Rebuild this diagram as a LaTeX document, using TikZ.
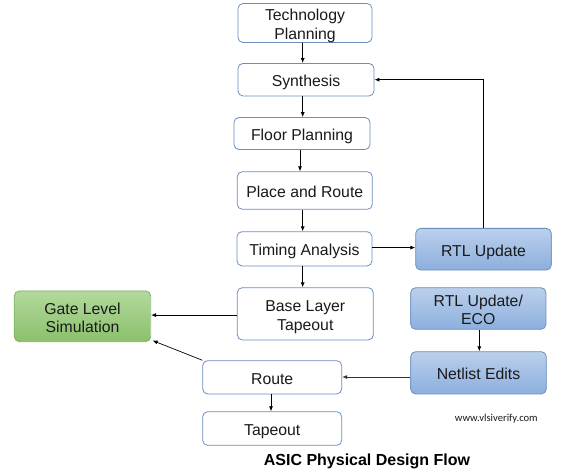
\documentclass[tikz,border=0pt]{standalone}
\usepackage{fontspec}
\setmainfont{Liberation Sans}
\newfontfamily\wmfont{Carlito}
\usetikzlibrary{arrows.meta}
\definecolor{bordblue}{HTML}{6C8EBF}
\definecolor{bordgreen}{HTML}{82B366}
\definecolor{bluetop}{HTML}{BBD0EC}
\definecolor{bluebot}{HTML}{8CAFDE}
\definecolor{greentop}{HTML}{B3D99D}
\definecolor{greenbot}{HTML}{8BC06C}
\definecolor{txt}{HTML}{1A1A1A}
\newcommand{\ctext}[1]{\raisebox{-7pt}[0pt][0pt]{\begin{tabular}{@{}c@{}}#1\end{tabular}}}
\tikzset{
  box/.style={draw=bordblue, line width=0.8pt, rounded corners=5pt, fill=white,
    inner sep=0pt, text=txt,
    font=\fontsize{15.8}{18.5}\selectfont},
  bluebox/.style={box, top color=bluetop, bottom color=bluebot},
  greenbox/.style={box, draw=bordgreen, top color=greentop, bottom color=greenbot},
  arr/.style={-{Latex[length=5pt,width=4pt]}, line width=0.7pt, black},
}
\begin{document}
\begin{tikzpicture}[x=1pt,y=-1pt]
\useasboundingbox[fill=white] (0,0) rectangle (582,475);
\node[box, minimum width=134pt, minimum height=39pt] (tp) at (305,23) {\ctext{Technology\\Planning}};
\node[box, minimum width=136pt, minimum height=32.5pt] (syn) at (306,79.7) {\ctext{Synthesis}};
\node[box, minimum width=136pt, minimum height=32pt] (fp) at (302,133.5) {\ctext{Floor Planning}};
\node[box, minimum width=135pt, minimum height=37.6pt] (pr) at (304.8,190.5) {\ctext{Place and Route}};
\node[box, minimum width=135pt, minimum height=34.3pt] (ta) at (304.5,248.8) {\ctext{Timing Analysis}};
\node[box, minimum width=136pt, minimum height=52.3pt] (bl) at (305.3,313.8) {\ctext{Base Layer\\Tapeout}};
\node[bluebox, minimum width=135.6pt, minimum height=41.7pt] (rtl) at (483.5,249.2) {\ctext{RTL Update}};
\node[bluebox, minimum width=135.3pt, minimum height=41.6pt] (eco) at (478.3,308.5) {\ctext{RTL Update/\\ECO}};
\node[bluebox, minimum width=135.6pt, minimum height=42.3pt] (net) at (478.5,372.8) {\ctext{Netlist Edits}};
\node[greenbox, minimum width=136.4pt, minimum height=50.7pt] (gls) at (82.5,316.3) {\ctext{Gate Level\\Simulation}};
\node[box, minimum width=139pt, minimum height=33.3pt] (route) at (272.2,377.3) {\ctext{Route}};
\node[box, minimum width=139pt, minimum height=33.6pt] (tape) at (272.2,428.5) {\ctext{Tapeout}};
\node[font=\wmfont\fontsize{10.6}{12}\selectfont, text=txt] (wm) at (496.3,418.3) {www.vlsiverify.com};
\node[font=\bfseries\fontsize{16}{19}\selectfont] (title) at (367,461) {ASIC Physical Design Flow};
% connectors
\coordinate (a1) at ([xshift=-2.3pt]tp.south);
\draw[arr] (a1) -- (a1 |- syn.north);
\coordinate (a2) at ([xshift=-3.3pt]syn.south);
\draw[arr] (a2) -- (a2 |- fp.north);
\coordinate (a3) at ([xshift=-2pt]fp.south);
\draw[arr] (a3) -- (a3 |- pr.north);
\coordinate (a4) at ([xshift=-2.1pt]pr.south);
\draw[arr] (a4) -- (a4 |- ta.north);
\coordinate (a5) at ([xshift=-1.8pt]ta.south);
\draw[arr] (a5) -- (a5 |- bl.north);
\coordinate (a6) at ([yshift=1.2pt]ta.east);
\draw[arr] (a6) -- (a6 -| rtl.west);
\draw[arr] (rtl.north) |- (syn.east);
\coordinate (a7) at ([yshift=-1.3pt]bl.west);
\draw[arr] (a7) -- (a7 -| gls.east);
\draw[arr] (route.north west) -- ([xshift=1.5pt,yshift=1.5pt]gls.south east);
\coordinate (a8) at ([xshift=1pt]eco.south);
\draw[arr] (a8) -- (a8 |- net.north);
\coordinate (a9) at ([yshift=0.3pt]route.east);
\draw[arr, line width=0.9pt, black!80] (a9 -| net.west) -- (a9);
\coordinate (a10) at ([xshift=-1.2pt]route.south);
\draw[arr] (a10) -- (a10 |- tape.north);
\end{tikzpicture}
\end{document}
